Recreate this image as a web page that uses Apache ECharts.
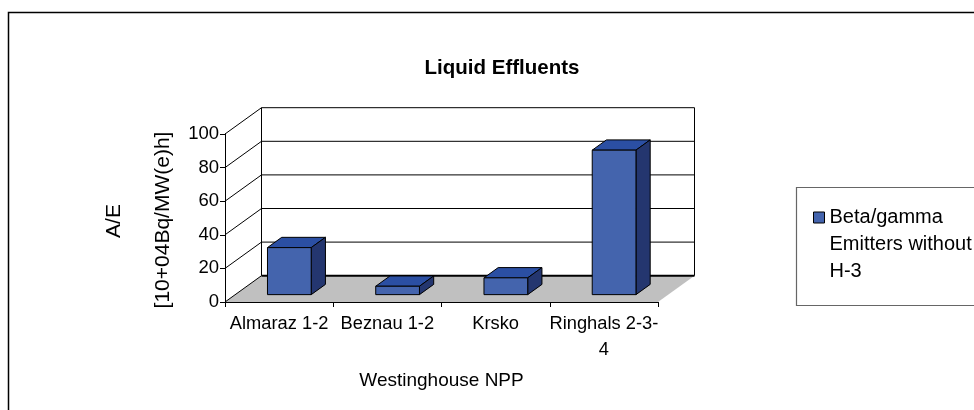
<!DOCTYPE html>
<html>
<head>
<meta charset="utf-8">
<script src="https://cdn.jsdelivr.net/npm/echarts@6/dist/echarts.min.js"></script>
<style>html,body{margin:0;padding:0;background:#fff;}#c{width:974px;height:410px;}</style>
</head>
<body>
<div id="c"></div>
<script>
const categories = ['Almaraz 1-2', 'Beznau 1-2', 'Krsko', 'Ringhals 2-3-4'];
const values = [28, 5, 10, 86];
const yTicks = [0, 20, 40, 60, 80, 100];
const seriesName = 'Beta/gamma Emitters without H-3';
const legendLines = ['Beta/gamma', 'Emitters without', 'H-3'];
const chartTitle = 'Liquid Effluents';
const xName = 'Westinghouse NPP';
const yNameLines = ['A/E', '[10+04Bq/MW(e)h]'];

const FONT = '"Liberation Sans", Arial, sans-serif';
const DX = 36.5, DY = -26.3;     // depth vector of the floor
const F1 = 0.28, F2 = 0.67;      // bar front/back depth fraction
const BAR_W = 0.404;
const FRONT = '#4464AD', TOP = '#2B4FA3', SIDE = '#24366F', FLOOR = '#C0C0C0';

const chart = echarts.init(document.getElementById('c'), null, {renderer: 'canvas'});

function renderWalls(params, api) {
  const cs = params.coordSys;
  const xl = cs.x, xr = cs.x + cs.width;
  const y0 = api.coord([0, 0])[1];
  const children = [];
  children.push({type: 'polygon', shape: {points: [[xl, y0], [xr, y0], [xr + DX, y0 + DY], [xl + DX, y0 + DY]]},
    style: {fill: FLOOR, stroke: null}});
  yTicks.forEach(function (t) {
    const y = api.coord([0, t])[1];
    children.push({type: 'line', shape: {x1: xl + DX, y1: y + DY, x2: xr + DX, y2: y + DY},
      style: {stroke: '#000', lineWidth: t === 0 ? 2 : 1}});
    children.push({type: 'line', shape: {x1: xl, y1: y, x2: xl + DX, y2: y + DY},
      style: {stroke: '#000', lineWidth: 1}});
  });
  const yTop = api.coord([0, yTicks[yTicks.length - 1]])[1];
  children.push({type: 'line', shape: {x1: xl + DX, y1: yTop + DY, x2: xl + DX, y2: y0 + DY}, style: {stroke: '#000', lineWidth: 1}});
  children.push({type: 'line', shape: {x1: xr + DX, y1: yTop + DY, x2: xr + DX, y2: y0 + DY}, style: {stroke: '#000', lineWidth: 1}});
  return {type: 'group', children: children};
}

function renderBar(params, api) {
  const idx = api.value(0), v = api.value(1);
  const base = api.coord([idx, 0]);
  const top = api.coord([idx, v]);
  const bw = api.size([1, 0])[0];
  const w = bw * BAR_W;
  const fx = DX * F1, fy = DY * F1;
  const ddx = DX * (F2 - F1), ddy = DY * (F2 - F1);
  const x0 = base[0] - w / 2 + fx, x1 = x0 + w;
  const yb = base[1] + fy, yt = top[1] + fy;
  const st = {stroke: '#000', lineWidth: 1, lineJoin: 'round'};
  return {type: 'group', children: [
    {type: 'polygon', shape: {points: [[x0, yt], [x1, yt], [x1 + ddx, yt + ddy], [x0 + ddx, yt + ddy]]}, style: Object.assign({fill: TOP}, st)},
    {type: 'polygon', shape: {points: [[x1, yt], [x1, yb], [x1 + ddx, yb + ddy], [x1 + ddx, yt + ddy]]}, style: Object.assign({fill: SIDE}, st)},
    {type: 'rect', shape: {x: x0, y: yt, width: w, height: yb - yt}, style: Object.assign({fill: FRONT}, st)}
  ]};
}

const option = {
  backgroundColor: '#fff',
  animation: false,
  title: {
    text: chartTitle, left: 497, top: 53, textAlign: 'center',
    textStyle: {fontFamily: FONT, fontSize: 20.5, fontWeight: 'bold', color: '#000'}
  },
  legend: {
    left: 813, top: 150, padding: 0, itemWidth: 11, itemHeight: 11, itemGap: 0,
    selectedMode: false,
    data: [{name: seriesName, icon: 'rect', itemStyle: {color: FRONT, borderColor: '#000', borderWidth: 1}}],
    formatter: function () { return '\n\n' + legendLines.join('\n'); },
    textStyle: {fontFamily: FONT, fontSize: 20, color: '#000', lineHeight: 27}
  },
  grid: {left: 225, top: 134, width: 433, height: 168, containLabel: false},
  xAxis: {
    type: 'category', data: categories, z: 5,
    name: xName, nameLocation: 'middle', nameGap: 69,
    nameTextStyle: {fontFamily: FONT, fontSize: 19, color: '#000'},
    axisLine: {show: true, lineStyle: {color: '#000', width: 1}},
    axisTick: {show: true, length: 5, alignWithLabel: false, lineStyle: {color: '#000'}},
    axisLabel: {
      interval: 0, margin: 9, color: '#000', fontFamily: FONT, fontSize: 18.3, lineHeight: 26,
      formatter: function (v) { return v.replace(/(\d-\d-)(\d)$/, '$1\n$2'); }
    },
    splitLine: {show: false}
  },
  yAxis: {
    type: 'value', min: 0, max: 100, interval: 20, z: 5,
    axisLine: {show: true, lineStyle: {color: '#000', width: 1}},
    axisTick: {show: true, length: 5, lineStyle: {color: '#000'}},
    axisLabel: {margin: 6, color: '#000', fontFamily: FONT, fontSize: 18.5},
    splitLine: {show: false}
  },
  graphic: [
    {type: 'rect', silent: true, z: -10, shape: {x: 8.5, y: 12.5, width: 1000, height: 500},
      style: {fill: null, stroke: '#000', lineWidth: 1.5}},
    {type: 'rect', silent: true, z: -10, shape: {x: 796.5, y: 187.5, width: 300, height: 118},
      style: {fill: '#fff', stroke: '#666', lineWidth: 1.2}},
    {type: 'text', silent: true, x: 114, y: 221, rotation: Math.PI / 2,
      style: {text: yNameLines[0], fontFamily: FONT, fontSize: 21, fill: '#000', align: 'center', verticalAlign: 'middle'}},
    {type: 'text', silent: true, x: 163, y: 220, rotation: Math.PI / 2,
      style: {text: yNameLines[1], fontFamily: FONT, fontSize: 21, fill: '#000', align: 'center', verticalAlign: 'middle'}}
  ],
  series: [
    {type: 'custom', name: 'walls', silent: true, z: 1, renderItem: renderWalls, data: [[0, 0]], encode: {x: 0, y: 1}, legendHoverLink: false},
    {type: 'custom', name: seriesName, z: 3, renderItem: renderBar, itemStyle: {color: FRONT},
      data: values.map(function (v, i) { return [i, v]; }), encode: {x: 0, y: 1}}
  ]
};
chart.setOption(option);
</script>
</body>
</html>
